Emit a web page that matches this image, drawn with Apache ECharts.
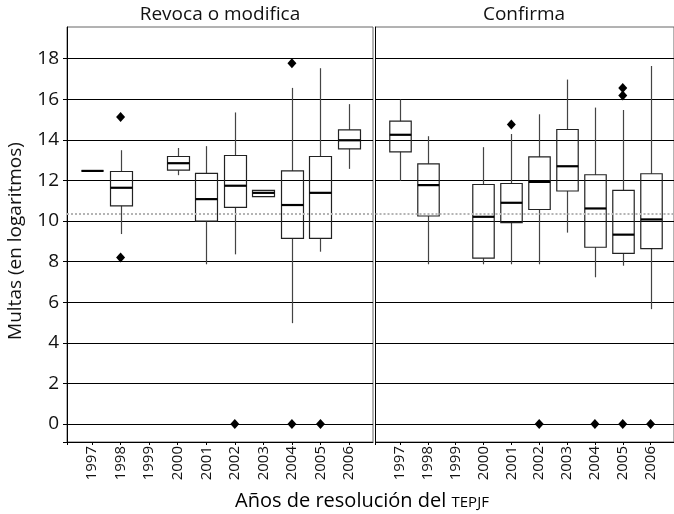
<!DOCTYPE html>
<html>
<head>
<meta charset="utf-8">
<script src="https://cdn.jsdelivr.net/npm/echarts@6/dist/echarts.min.js"></script>
<style>
html,body{margin:0;padding:0;background:#fff;}
#chart{width:674px;height:514px;}
</style>
</head>
<body>
<div id="chart"></div>
<script>
// ---- Data ----
const years = ['1997','1998','1999','2000','2001','2002','2003','2004','2005','2006'];
const panelTitles = ['Revoca o modifica', 'Confirma'];
const yTickValues = [0, 2, 4, 6, 8, 10, 12, 14, 16, 18];
const refLine = 10.35;

// [min, Q1, median, Q3, max] per year (null = no data)
const revocaBoxes = [
  [12.47, 12.47, 12.47, 12.47, 12.47],
  [9.36, 10.75, 11.64, 12.44, 13.49],
  null,
  [12.26, 12.51, 12.85, 13.18, 13.60],
  [7.87, 10.00, 11.08, 12.35, 13.69],
  [8.36, 10.67, 11.74, 13.23, 15.35],
  [11.20, 11.20, 11.39, 11.51, 11.51],
  [4.97, 9.15, 10.79, 12.47, 16.56],
  [8.49, 9.15, 11.39, 13.18, 17.53],
  [12.57, 13.56, 13.98, 14.49, 15.76]
];
const revocaOutliers = [
  ['1998', 15.13], ['1998', 8.21], ['2002', 0], ['2004', 17.77], ['2004', 0], ['2005', 0]
];
const confirmaBoxes = [
  [11.98, 13.41, 14.25, 14.92, 15.99],
  [7.87, 10.25, 11.77, 12.82, 14.18],
  null,
  [7.87, 8.17, 10.21, 11.80, 13.64],
  [7.87, 9.92, 10.90, 11.85, 14.29],
  [7.87, 10.57, 11.93, 13.16, 15.26],
  [9.43, 11.48, 12.70, 14.51, 16.97],
  [7.23, 8.71, 10.62, 12.28, 15.59],
  [7.80, 8.41, 9.33, 11.51, 15.47],
  [5.66, 8.64, 10.08, 12.33, 17.64]
];
const confirmaOutliers = [
  ['2001', 14.76], ['2002', 0], ['2004', 0], ['2005', 16.56], ['2005', 16.18], ['2005', 0], ['2006', 0]
];

// ---- Axis ranges ----
const xMin = -0.877, xMax = 9.84;
const yMin = -0.885, yMax = 19.56;

const FONT = '"Open Sans", "Noto Sans", sans-serif';

function boxData(boxes) {
  const out = [];
  boxes.forEach((b, i) => { if (b) out.push([i].concat(b)); });
  return out;
}
function outData(list) {
  return list.map(o => [years.indexOf(o[0]), o[1]]);
}

function renderBox(params, api) {
  const x = api.value(0);
  const pMin = api.coord([x, api.value(1)]);
  const pQ1 = api.coord([x, api.value(2)]);
  const pMed = api.coord([x, api.value(3)]);
  const pQ3 = api.coord([x, api.value(4)]);
  const pMax = api.coord([x, api.value(5)]);
  const w = api.size([1, 0])[0] * 0.77;
  const cx = Math.round(pMed[0]) + 0.5;
  const children = [];
  if (pMin[1] - pQ1[1] > 0.5) {
    children.push({type: 'line', shape: {x1: cx, y1: pQ1[1], x2: cx, y2: pMin[1]},
      style: {stroke: '#444', lineWidth: 1.2}});
  }
  if (pQ3[1] - pMax[1] > 0.5) {
    children.push({type: 'line', shape: {x1: cx, y1: pMax[1], x2: cx, y2: pQ3[1]},
      style: {stroke: '#444', lineWidth: 1.2}});
  }
  children.push({type: 'rect', shape: {x: cx - w / 2, y: pQ3[1], width: w, height: pQ1[1] - pQ3[1]},
    style: {fill: 'none', stroke: '#222', lineWidth: 1.2}});
  children.push({type: 'line', shape: {x1: cx - w / 2, y1: pMed[1], x2: cx + w / 2, y2: pMed[1]},
    style: {stroke: '#000', lineWidth: 2.2}});
  return {type: 'group', children: children};
}

const grids = [
  {left: 67, top: 27, width: 306, height: 415},
  {left: 375.5, top: 27, width: 306, height: 415}
];

function makeX(gi) {
  return {
    type: 'value', gridIndex: gi, min: xMin, max: xMax,
    axisLine: {show: true, onZero: false, lineStyle: {color: '#000', width: 1}},
    axisTick: {show: true, length: 3, lineStyle: {color: '#000'}, customValues: [xMin, 0,1,2,3,4,5,6,7,8,9]},
    axisLabel: {show: true, rotate: 90, fontSize: 15, color: '#111', fontFamily: FONT, margin: 4,
      customValues: [0,1,2,3,4,5,6,7,8,9],
      formatter: v => years[Math.round(v)] || ''},
    splitLine: {show: false}
  };
}
function makeY(gi) {
  return {
    type: 'value', gridIndex: gi, min: yMin, max: yMax,
    axisLine: {show: true, onZero: false, lineStyle: {color: '#000', width: 1}},
    axisTick: {show: gi === 0, length: 4, lineStyle: {color: '#000'}, customValues: [yMin].concat(yTickValues)},
    axisLabel: {show: gi === 0, fontSize: 19, color: '#111', fontFamily: FONT, margin: 8,
      customValues: yTickValues},
    splitLine: {show: true, lineStyle: {color: '#000', width: 1}}
  };
}

const series = [];
[[revocaBoxes, revocaOutliers], [confirmaBoxes, confirmaOutliers]].forEach((p, gi) => {
  series.push({
    type: 'custom', xAxisIndex: gi, yAxisIndex: gi,
    data: boxData(p[0]), renderItem: renderBox, z: 3,
    encode: {x: 0, y: [1, 2, 3, 4, 5]}
  });
  series.push({
    type: 'scatter', xAxisIndex: gi, yAxisIndex: gi,
    data: outData(p[1]), symbol: 'diamond', symbolSize: [9, 10],
    itemStyle: {color: '#000', opacity: 1}, z: 4,
    markLine: {
      silent: true, symbol: 'none', label: {show: false},
      lineStyle: {color: '#b4b4b4', type: [2, 2], width: 2},
      data: [{yAxis: refLine}]
    }
  });
});

const chart = echarts.init(document.getElementById('chart'), null, {renderer: 'canvas'});
chart.setOption({
  animation: false,
  backgroundColor: '#fff',
  grid: grids.map(g => Object.assign({show: true, borderColor: '#666', borderWidth: 1, backgroundColor: 'transparent'}, g)),
  xAxis: [makeX(0), makeX(1)],
  yAxis: [makeY(0), makeY(1)],
  series: series,
  graphic: [
    {type: 'text', x: 220, y: 15, style: {text: panelTitles[0], font: '19px ' + FONT, fill: '#111', align: 'center', verticalAlign: 'middle'}},
    {type: 'text', x: 524, y: 15, style: {text: panelTitles[1], font: '19px ' + FONT, fill: '#111', align: 'center', verticalAlign: 'middle'}},
    {type: 'text', x: 16, y: 241, rotation: Math.PI / 2, style: {text: 'Multas (en logaritmos)', font: '19px ' + FONT, fill: '#111', align: 'center', verticalAlign: 'middle'}},
    {type: 'text', x: 362, y: 501, style: {
      text: '{a|Años de resolución del }{b|TEPJF}', align: 'center', verticalAlign: 'middle',
      rich: {a: {fontSize: 20, fontFamily: FONT, color: '#111'}, b: {fontSize: 15, fontFamily: FONT, color: '#111', padding: [3, 0, 0, 0]}}
    }}
  ]
});
</script>
</body>
</html>
